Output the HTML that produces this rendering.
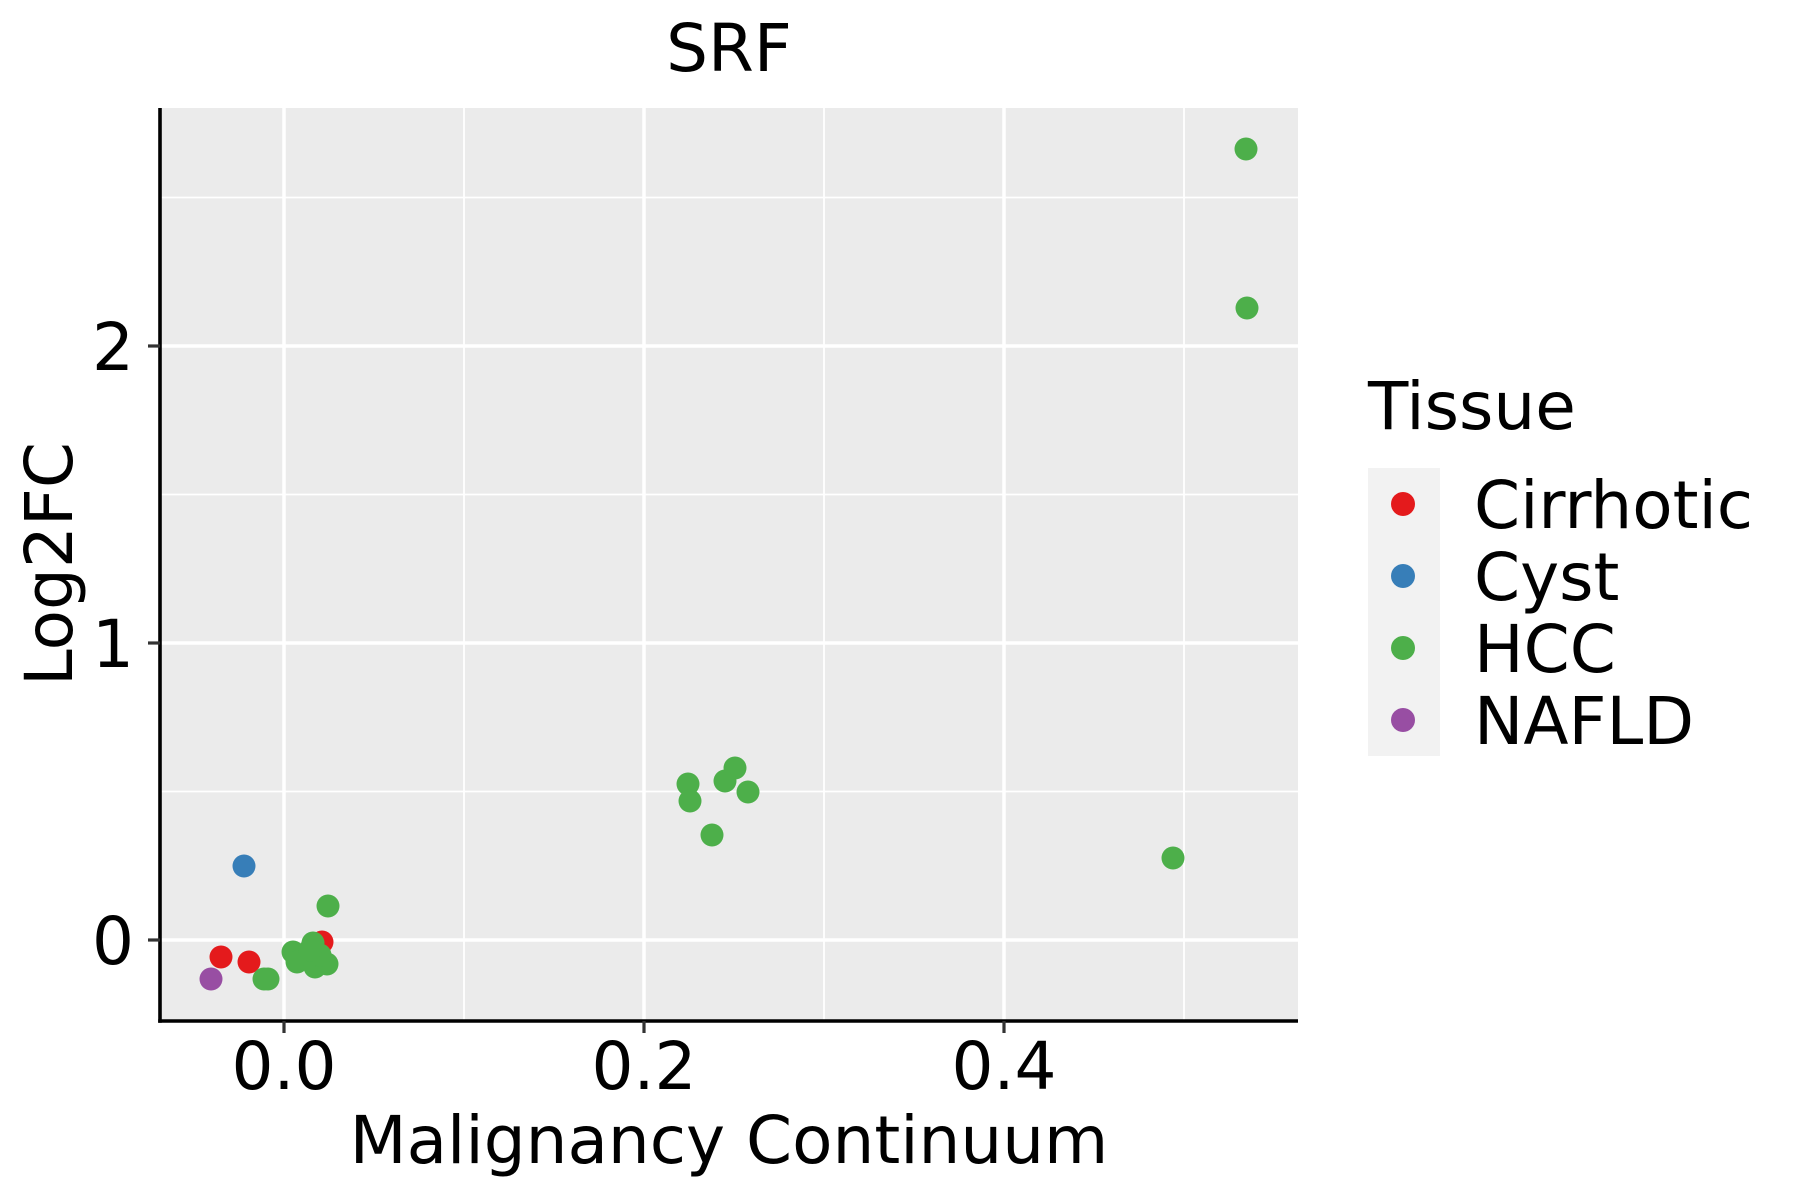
<!DOCTYPE html>
<html><head><meta charset="utf-8"><style>html,body{margin:0;padding:0;background:#fff}svg{display:block}</style></head>
<body>
<svg width="1800" height="1200" viewBox="0 0 1800 1200" xmlns="http://www.w3.org/2000/svg" font-family="'DejaVu Sans','Liberation Sans',sans-serif">
<rect x="160" y="108" width="1138" height="913" fill="#ebebeb"/>
<g stroke="#fff" stroke-width="1.8">
<line x1="464" y1="108" x2="464" y2="1021"/><line x1="824" y1="108" x2="824" y2="1021"/><line x1="1184" y1="108" x2="1184" y2="1021"/>
<line x1="160" y1="197.5" x2="1298" y2="197.5"/><line x1="160" y1="494.5" x2="1298" y2="494.5"/><line x1="160" y1="791.5" x2="1298" y2="791.5"/>
</g>
<g stroke="#fff" stroke-width="3.5">
<line x1="284" y1="108" x2="284" y2="1021"/><line x1="644" y1="108" x2="644" y2="1021"/><line x1="1004" y1="108" x2="1004" y2="1021"/>
<line x1="160" y1="346" x2="1298" y2="346"/><line x1="160" y1="643" x2="1298" y2="643"/><line x1="160" y1="940" x2="1298" y2="940"/>
</g>
<g fill="#e41a1c"><circle cx="322" cy="942" r="11.5"/><circle cx="221" cy="957" r="11.5"/><circle cx="249" cy="962" r="11.5"/></g>
<circle cx="244" cy="866" r="11.5" fill="#377eb8"/>
<circle cx="211" cy="979" r="11.5" fill="#984ea3"/>
<g fill="#4daf4a">
<circle cx="328" cy="906" r="11.5"/><circle cx="264" cy="979" r="11.5"/><circle cx="268" cy="979" r="11.5"/>
<circle cx="293" cy="952" r="11.5"/><circle cx="297" cy="962" r="11.5"/><circle cx="313" cy="943" r="11.5"/><circle cx="315" cy="967" r="11.5"/><circle cx="327" cy="964" r="11.5"/><circle cx="320" cy="955" r="11.5"/><circle cx="310" cy="950" r="11.5"/>
<circle cx="688" cy="784" r="11.5"/><circle cx="690" cy="801" r="11.5"/><circle cx="725" cy="781" r="11.5"/><circle cx="735" cy="768" r="11.5"/><circle cx="748" cy="792" r="11.5"/><circle cx="712" cy="835" r="11.5"/><circle cx="1173" cy="858" r="11.5"/>
<circle cx="1246" cy="149" r="11.5"/><circle cx="1247" cy="308" r="11.5"/>
</g>
<g stroke="#000" stroke-width="3.6"><line x1="160" y1="108" x2="160" y2="1022.8"/><line x1="158.2" y1="1021" x2="1298" y2="1021"/></g>
<g stroke="#333" stroke-width="3.2">
<line x1="148" y1="346" x2="160" y2="346"/><line x1="148" y1="643" x2="160" y2="643"/><line x1="148" y1="940" x2="160" y2="940"/>
<line x1="284" y1="1021" x2="284" y2="1033"/><line x1="644" y1="1021" x2="644" y2="1033"/><line x1="1004" y1="1021" x2="1004" y2="1033"/>
</g>
<g font-size="66" fill="#000">
<text x="134" y="370" text-anchor="end">2</text><text x="134" y="667" text-anchor="end">1</text><text x="134" y="964" text-anchor="end">0</text>
<text x="284" y="1089" text-anchor="middle">0.0</text><text x="644" y="1089" text-anchor="middle">0.2</text><text x="1004" y="1089" text-anchor="middle">0.4</text>
<text x="729" y="1163" text-anchor="middle">Malignancy Continuum</text>
<text x="729" y="71" text-anchor="middle">SRF</text>
<text transform="translate(72,564) rotate(-90)" text-anchor="middle">Log2FC</text>
<text x="1368" y="429">Tissue</text>
</g>
<rect x="1368" y="468" width="72" height="288" fill="#f2f2f2"/>
<circle cx="1403" cy="504" r="12" fill="#e41a1c"/><circle cx="1403" cy="576" r="12" fill="#377eb8"/><circle cx="1403" cy="648" r="12" fill="#4daf4a"/><circle cx="1403" cy="720" r="12" fill="#984ea3"/>
<g font-size="66" fill="#000">
<text x="1474" y="528">Cirrhotic</text><text x="1474" y="600">Cyst</text><text x="1474" y="672">HCC</text><text x="1474" y="744">NAFLD</text>
</g>
</svg>
</body></html>
